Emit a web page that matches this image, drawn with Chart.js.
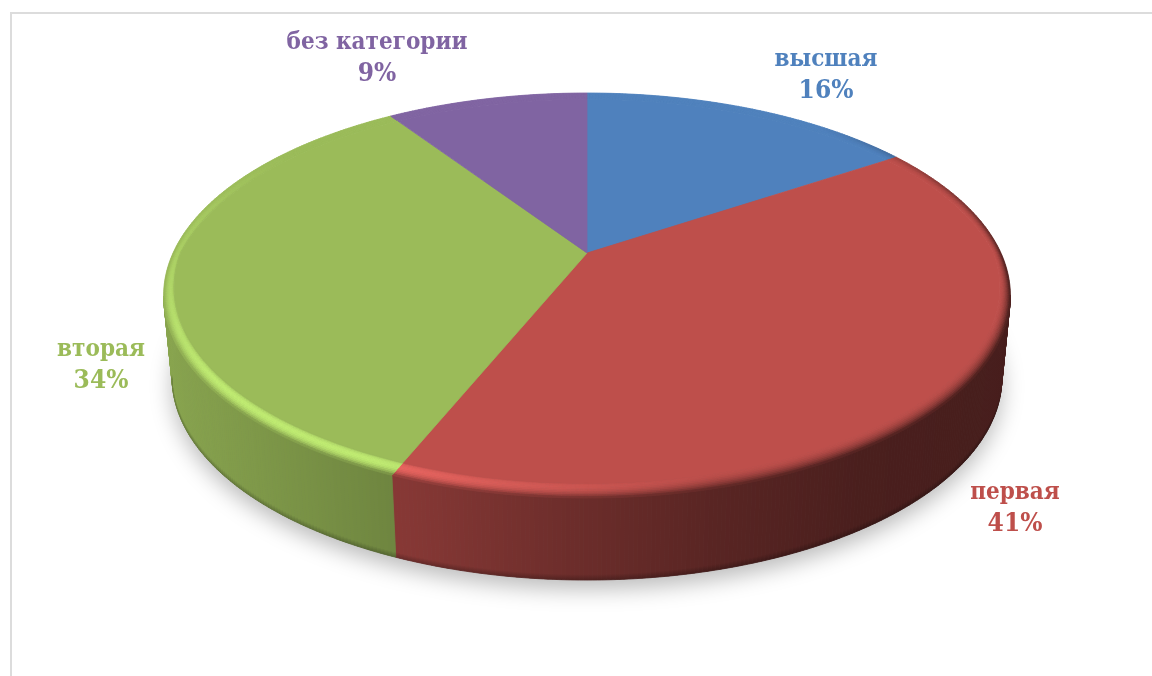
<!DOCTYPE html>
<html lang="ru">
<head>
<meta charset="utf-8">
<title>Категории</title>
<script src="https://cdn.jsdelivr.net/npm/chart.js@4/dist/chart.umd.min.js"></script>
<style>
    html, body { margin: 0; height: 100%; background: #fff; overflow: hidden; }
    .chart-box { position: absolute; left: 10px; top: 12px; width: 1150px; height: 670px; border: solid #dcdcdc; border-width: 2px 0 0 2px; }
    canvas { display: block; }
</style>
</head>
<body>
<div class="chart-box"><canvas id="myChart" width="1140" height="662"></canvas></div>
<script>
const categories = ['высшая', 'первая', 'вторая', 'без категории']
const shares = [15.7, 40.5, 34.4, 9.4]
const colors = ['#4f81bd', '#be4f4b', '#9bbb59', '#8064a2']

// label centres on the canvas, first line
const labelX = [814, 1003, 89, 365]
const labelY = [46, 479, 336, 29]
const LINE_GAP = 31

// look of the tilted disc
const TILT = 0.21
const STRETCH_X = 1.732
const STRETCH_Y = 0.81
const DEPTH = 82
const LOWER_X = 0.98
const STEP = Math.PI / 360

// how dark the side wall gets going left to right
const wallStopX = [150, 400, 550, 700, 850, 1000]
const wallStopF = [0.88, 0.70, 0.58, 0.47, 0.39, 0.37]

const rgb = hex => [1, 3, 5].map(i => parseInt(hex.substr(i, 2), 16))
const mix = (a, b, t) => a.map((c, i) => c + (b[i] - c) * t)
const css = c => `rgb(${c.map(Math.round).join(',')})`
const ramp = (x, a, b) => Math.min(1, Math.max(0, (x - a) / (b - a)))

// the rounded edge is narrower on the sides than at the front
const flatRadius = angle => 0.982 - 0.03 * Math.abs(Math.sin(angle))

function wallFactor(x) {
    for (let i = 1; i < wallStopX.length; i++) {
        if (x <= wallStopX[i]) {
            const t = ramp(x, wallStopX[i - 1], wallStopX[i])
            return wallStopF[i - 1] + (wallStopF[i] - wallStopF[i - 1]) * t
        }
    }
    return wallStopF[wallStopF.length - 1]
}

function project(arc, angle, r, lower) {
    const u = r * Math.cos(angle)
    const v = r * Math.sin(angle)
    const w = 1 - TILT * v
    return {
        x: arc.x + (lower ? LOWER_X : 1) * STRETCH_X * arc.outerRadius * u / w,
        y: arc.y + (lower ? DEPTH : 0) + STRETCH_Y * arc.outerRadius * v / w
    }
}

function quad(ctx, pts, fill) {
    ctx.beginPath()
    pts.forEach((p, i) => i ? ctx.lineTo(p.x, p.y) : ctx.moveTo(p.x, p.y))
    ctx.closePath()
    ctx.fillStyle = fill
    ctx.strokeStyle = fill
    ctx.lineWidth = 0.8
    ctx.fill()
    ctx.stroke()
}

function eachStep(arc, fn) {
    const n = Math.max(1, Math.ceil((arc.endAngle - arc.startAngle) / STEP))
    for (let i = 0; i < n; i++) {
        fn(arc.startAngle + (arc.endAngle - arc.startAngle) * i / n, arc.startAngle + (arc.endAngle - arc.startAngle) * (i + 1) / n)
    }
}

function drawShadow(ctx, arcs) {
    ctx.save()
    ctx.shadowColor = 'rgba(0,0,0,0.27)'
    ctx.shadowBlur = 22
    ctx.shadowOffsetY = 9
    ctx.beginPath()
    arcs.forEach(arc => eachStep(arc, a => {
        const p = project(arc, a, 1, true)
        ctx.lineTo(p.x, p.y)
    }))
    ctx.closePath()
    ctx.fillStyle = '#666'
    ctx.fill()
    ctx.restore()
}

function drawWall(ctx, arc, base) {
    eachStep(arc, (a, b) => {
        if (Math.sin((a + b) / 2) < TILT) return
        const t0 = project(arc, a, 1, false)
        const t1 = project(arc, b, 1, false)
        const b0 = project(arc, a, 1, true)
        const b1 = project(arc, b, 1, true)
        const f = wallFactor((t0.x + t1.x) / 2)
        const c = base.map(v => v * f)
        const grad = ctx.createLinearGradient(0, t0.y, 0, b0.y)
        grad.addColorStop(0, css(c))
        grad.addColorStop(0.93, css(c))
        grad.addColorStop(1, css(c.map(v => v * 0.75)))
        quad(ctx, [t0, t1, b1, b0], grad)
    })
}

function drawBevel(ctx, arc, base) {
    const bands = 9
    const glow = base.map((v, i) => Math.min(255, v * 1.24 + (i ? 4 : 0)))
    eachStep(arc, (a, b) => {
        const mid = (a + b) / 2
        const deg = (mid * 180 / Math.PI + 90 + 360) % 360
        const front = ramp(deg, 40, 95) * (1 - ramp(deg, 225, 280))
        const hi = ramp(deg, 165, 205) * (1 - 0.65 * ramp(deg, 235, 275)) * (1 - ramp(deg, 275, 305))
        const edge = project(arc, mid, 1, false)
        const f = wallFactor(edge.x)
        const wall = base.map(v => v * f)
        const fr0 = flatRadius(a)
        const fr1 = flatRadius(b)
        for (let k = 0; k < bands; k++) {
            const t = (k + 0.5) / bands
            const p0 = project(arc, a, fr0 + (1 - fr0) * k / bands)
            const p1 = project(arc, b, fr1 + (1 - fr1) * k / bands)
            const p2 = project(arc, b, fr1 + (1 - fr1) * (k + 1) / bands)
            const p3 = project(arc, a, fr0 + (1 - fr0) * (k + 1) / bands)
            let c = mix(base, wall, front * t * t)
            c = mix(c, glow, hi * Math.sin(Math.PI * Math.pow(t, 0.7)))
            quad(ctx, [p0, p1, p2, p3], css(c))
        }
    })
}

function drawFace(ctx, arc, hex) {
    const first = project(arc, arc.startAngle, flatRadius(arc.startAngle))
    ctx.beginPath()
    ctx.moveTo(arc.x, arc.y)
    ctx.lineTo(first.x, first.y)
    eachStep(arc, (a, b) => {
        const p = project(arc, b, flatRadius(b))
        ctx.lineTo(p.x, p.y)
    })
    ctx.closePath()
    ctx.fillStyle = hex
    ctx.strokeStyle = hex
    ctx.lineWidth = 0.8
    ctx.fill()
    ctx.stroke()
}

// chart.js lays the slices out, this turns them into the tilted disc
const tiltedPie = {
    id: 'tiltedPie',
    beforeDatasetDraw(chart, args) {
        const ctx = chart.ctx
        const arcs = args.meta.data
        const bases = colors.map(rgb)
        drawShadow(ctx, arcs)
        arcs.forEach((arc, i) => drawWall(ctx, arc, bases[i]))
        arcs.forEach((arc, i) => drawBevel(ctx, arc, bases[i]))
        arcs.forEach((arc, i) => drawFace(ctx, arc, colors[i]))
        return false
    },
    afterDraw(chart) {
        const ctx = chart.ctx
        ctx.save()
        ctx.textAlign = 'center'
        ctx.textBaseline = 'middle'
        categories.forEach((name, i) => {
            ctx.fillStyle = colors[i]
            ctx.font = 'bold 24px "DejaVu Serif Condensed", "DejaVu Serif"'
            ctx.fillText(name, labelX[i], labelY[i])
            ctx.font = 'bold 26px "DejaVu Serif Condensed", "DejaVu Serif"'
            ctx.fillText(`${Math.round(shares[i])}%`, labelX[i], labelY[i] + LINE_GAP)
        })
        ctx.restore()
    }
}

new Chart(document.getElementById('myChart'), {
    type: 'pie',
    data: {
        labels: categories,
        datasets: [{
            data: shares,
            backgroundColor: colors,
            borderWidth: 0
        }]
    },
    options: {
        responsive: false,
        animation: false,
        layout: { padding: { left: 10, right: 0, top: 0, bottom: 184 } },
        plugins: {
            legend: { display: false },
            tooltip: { enabled: false }
        }
    },
    plugins: [tiltedPie]
})
</script>
</body>
</html>
